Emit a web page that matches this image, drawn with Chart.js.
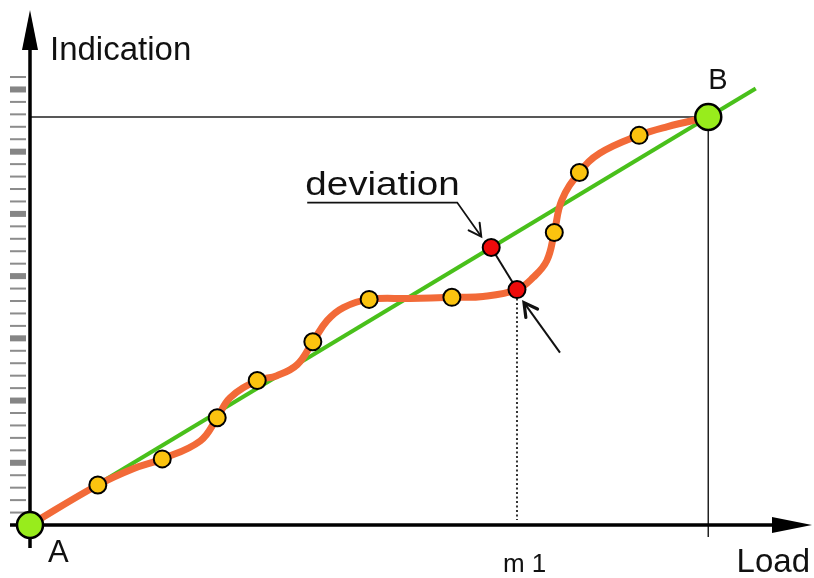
<!DOCTYPE html>
<html>
<head>
<meta charset="utf-8">
<script src="https://cdn.jsdelivr.net/npm/chart.js@4.4.1/dist/chart.umd.min.js"></script>
<style>
    body { margin: 0; background: #fff; }
    canvas { display: block; }
</style>
</head>
<body>
<canvas id="grafico" width="814" height="578"></canvas>
<script>
// Curva real do instrumento (carga x indicação), passando pelos pontos medidos
const curveLoad       = [0, 10, 15.2, 19.5, 25.1, 27.6, 29.5, 33.5, 36.4, 39.4, 41.7, 43.8, 46.2, 50, 56, 62.2, 66.8, 71.8, 74.2, 76.2, 77.3, 78.4, 81, 84, 89.8, 93.9, 100];
const curveIndication = [0, 9.8, 13.8, 16.2, 20.6, 26.3, 31.2, 35.4, 36.6, 39.3, 44.9, 50.1, 53.3, 55.3, 55.5, 55.8, 56, 57.7, 60.7, 64.8, 71.7, 79.6, 86.4, 91.1, 95.5, 97.6, 100];

// Pontos medidos (amarelos)
const measuredLoad       = [10, 19.5, 27.6, 33.5, 41.7, 50, 62.2, 77.3, 81, 89.8];
const measuredIndication = [9.8, 16.2, 26.3, 35.4, 44.9, 55.3, 55.8, 71.7, 86.4, 95.5];

// Reta ideal A -> B (prolongada além de B)
const idealLoad       = [0, 107];
const idealIndication = [0, 107];

// Desvio em m1: ponto na reta e ponto na curva
const deviationLoad       = [68, 71.8];
const deviationIndication = [68, 57.7];

// Extremos A e B
const endLoad       = [0, 100];
const endIndication = [0, 100];
const endLabels     = ['A', 'B'];

// Marcas da escala de indicação
const tickStep   = 3.05;
const tickCount  = 36;
const majorEvery = 5;

const xTitle = 'Load';
const yTitle = 'Indication';
const m1Label = 'm 1';
const deviationLabel = 'deviation';

const pts = (xs, ys) => xs.map((x, i) => ({ x: x, y: ys[i] }));

const FONT = '"Liberation Sans", Arial, sans-serif';

function setaAberta(ctx, x1, y1, x2, y2, size, width) {
    const ang = Math.atan2(y2 - y1, x2 - x1);
    ctx.save();
    ctx.lineWidth = width;
    ctx.lineCap = 'round';
    ctx.lineJoin = 'miter';
    ctx.beginPath();
    ctx.moveTo(x2 - size * Math.cos(ang - 0.5), y2 - size * Math.sin(ang - 0.5));
    ctx.lineTo(x2, y2);
    ctx.lineTo(x2 - size * Math.cos(ang + 0.5), y2 - size * Math.sin(ang + 0.5));
    ctx.stroke();
    ctx.restore();
}

// Eixos, marcas e linhas de referência (por baixo das curvas)
const eixosPlugin = {
    id: 'eixos',
    beforeDatasetsDraw(chart) {
        const ctx = chart.ctx;
        const sx = chart.scales.x, sy = chart.scales.y;
        const area = chart.chartArea;
        const x0 = sx.getPixelForValue(0), y0 = sy.getPixelForValue(0);
        const bx = sx.getPixelForValue(endLoad[1]), by = sy.getPixelForValue(endIndication[1]);
        ctx.save();

        // marcas da escala à esquerda do eixo
        for (let j = 1; j <= tickCount; j++) {
            const y = sy.getPixelForValue(j * tickStep);
            if (j % majorEvery === 0) {
                ctx.fillStyle = '#858585';
                ctx.fillRect(x0 - 20, y - 3, 16, 6);
            } else {
                ctx.fillStyle = '#8c8c8c';
                ctx.fillRect(x0 - 20, y - 1, 16, 2);
            }
        }

        // linhas até B
        ctx.strokeStyle = '#222';
        ctx.lineWidth = 1.5;
        ctx.beginPath();
        ctx.moveTo(x0, by);
        ctx.lineTo(bx, by);
        ctx.moveTo(bx, by);
        ctx.lineTo(bx, y0 + 12);
        ctx.stroke();

        // linha pontilhada de m1
        const mx = sx.getPixelForValue(deviationLoad[1]);
        const my = sy.getPixelForValue(deviationIndication[1]);
        ctx.setLineDash([2, 2.5]);
        ctx.lineWidth = 2;
        ctx.strokeStyle = '#333';
        ctx.beginPath();
        ctx.moveTo(mx, my);
        ctx.lineTo(mx, y0 - 5);
        ctx.stroke();
        ctx.setLineDash([]);

        // eixos com setas
        ctx.strokeStyle = '#000';
        ctx.fillStyle = '#000';
        ctx.lineWidth = 3.5;
        const topTip = area.top - 5;
        const rightTip = area.right + 2;
        ctx.beginPath();
        ctx.moveTo(x0, y0 + 23);
        ctx.lineTo(x0, topTip + 38);
        ctx.moveTo(x0 - 20, y0);
        ctx.lineTo(rightTip - 38, y0);
        ctx.stroke();

        ctx.beginPath();
        ctx.moveTo(x0, topTip);
        ctx.lineTo(x0 - 8, topTip + 40);
        ctx.lineTo(x0 + 8, topTip + 40);
        ctx.closePath();
        ctx.fill();

        ctx.beginPath();
        ctx.moveTo(rightTip, y0);
        ctx.lineTo(rightTip - 40, y0 - 8);
        ctx.lineTo(rightTip - 40, y0 + 8);
        ctx.closePath();
        ctx.fill();

        ctx.restore();
    },
    afterDatasetsDraw(chart) {
        const ctx = chart.ctx;
        const sx = chart.scales.x, sy = chart.scales.y;
        const area = chart.chartArea;
        const x0 = sx.getPixelForValue(0), y0 = sy.getPixelForValue(0);
        const r1x = sx.getPixelForValue(deviationLoad[0]), r1y = sy.getPixelForValue(deviationIndication[0]);
        const r2x = sx.getPixelForValue(deviationLoad[1]), r2y = sy.getPixelForValue(deviationIndication[1]);
        ctx.save();
        ctx.fillStyle = '#111';
        ctx.strokeStyle = '#111';
        ctx.textBaseline = 'alphabetic';

        // títulos dos eixos
        ctx.font = '33px ' + FONT;
        ctx.textAlign = 'left';
        ctx.fillText(yTitle, x0 + 20, area.top + 45);
        ctx.textAlign = 'right';
        ctx.fillText(xTitle, area.right, y0 + 47);

        // m1
        ctx.textAlign = 'left';
        ctx.font = '26px ' + FONT;
        ctx.fillText(m1Label, r2x - 14, y0 + 47);

        // A e B
        ctx.font = '31px ' + FONT;
        ctx.fillText(endLabels[0], sx.getPixelForValue(endLoad[0]) + 18, sy.getPixelForValue(endIndication[0]) + 37);
        ctx.font = '29px ' + FONT;
        ctx.fillText(endLabels[1], sx.getPixelForValue(endLoad[1]), sy.getPixelForValue(endIndication[1]) - 28);

        // legenda "deviation" com sublinhado e seta
        ctx.save();
        ctx.translate(r1x - 186, r1y - 53);
        ctx.scale(1.17, 1);
        ctx.font = '33px ' + FONT;
        ctx.fillText(deviationLabel, 0, 0);
        ctx.restore();

        ctx.lineWidth = 1.8;
        ctx.beginPath();
        ctx.moveTo(r1x - 184, r1y - 45);
        ctx.lineTo(r1x - 34, r1y - 45);
        ctx.lineTo(r1x - 10, r1y - 11);
        ctx.stroke();
        setaAberta(ctx, r1x - 34, r1y - 45, r1x - 10, r1y - 11, 14, 2);

        // seta inferior apontando para a curva
        ctx.lineWidth = 2;
        ctx.beginPath();
        ctx.moveTo(r2x + 43, r2y + 63);
        ctx.lineTo(r2x + 7, r2y + 13);
        ctx.stroke();
        setaAberta(ctx, r2x + 43, r2y + 63, r2x + 7, r2y + 13, 15, 3.2);

        ctx.restore();
    }
};

const ctx = document.getElementById('grafico').getContext('2d');
new Chart(ctx, {
    type: 'scatter',
    data: {
        datasets: [
            {
                // extremos A e B
                data: pts(endLoad, endIndication),
                pointRadius: 13,
                pointBackgroundColor: '#98ec1c',
                pointBorderColor: '#000',
                pointBorderWidth: 2.5,
                showLine: false,
                clip: false,
                order: 0
            },
            {
                // pontos de desvio
                data: pts(deviationLoad, deviationIndication),
                pointRadius: 8.5,
                pointBackgroundColor: '#ee0b0b',
                pointBorderColor: '#000',
                pointBorderWidth: 2,
                showLine: true,
                borderColor: '#111',
                borderWidth: 2,
                clip: false,
                order: 1
            },
            {
                // pontos medidos
                data: pts(measuredLoad, measuredIndication),
                pointRadius: 8.5,
                pointBackgroundColor: '#fbc30f',
                pointBorderColor: '#000',
                pointBorderWidth: 2,
                showLine: false,
                clip: false,
                order: 2
            },
            {
                // curva real
                data: pts(curveLoad, curveIndication),
                showLine: true,
                borderColor: '#f26a38',
                borderWidth: 7,
                tension: 0.4,
                pointRadius: 0,
                borderCapStyle: 'round',
                clip: false,
                order: 3
            },
            {
                // reta ideal
                data: pts(idealLoad, idealIndication),
                showLine: true,
                borderColor: '#49c01b',
                borderWidth: 4,
                pointRadius: 0,
                clip: false,
                order: 4
            }
        ]
    },
    options: {
        responsive: false,
        animation: false,
        layout: { autoPadding: false, padding: { left: 30, right: 4, top: 15, bottom: 53 } },
        scales: {
            x: { type: 'linear', min: 0, max: 115, display: false },
            y: { type: 'linear', min: 0, max: 125, display: false }
        },
        plugins: {
            legend: { display: false },
            tooltip: { enabled: false }
        },
        events: []
    },
    plugins: [eixosPlugin]
});
</script>
</body>
</html>
